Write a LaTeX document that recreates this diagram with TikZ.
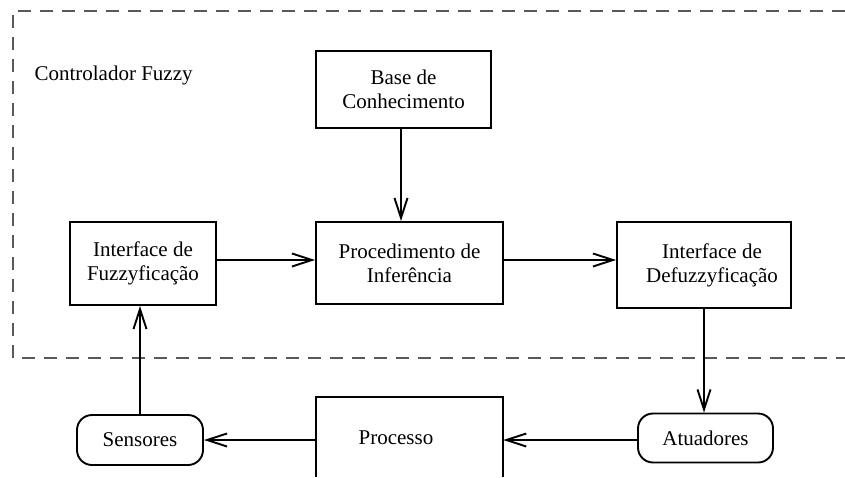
\documentclass[tikz,border=0pt]{standalone}
\usepackage{fontspec}
\setmainfont{Liberation Serif}
\usetikzlibrary{arrows.meta}

\begin{document}
\begin{tikzpicture}[x=1pt,y=-1pt,
  every node/.style={font=\fontsize{21}{24}\selectfont, align=center},
  blockbox/.style={draw, line width=1.9pt, inner sep=0pt},
  roundbox/.style={draw, line width=1.9pt, rounded corners=15pt, inner sep=0pt},
  conn/.style={line width=1.9pt, -{Straight Barb[length=20pt,width=13pt,line width=1.9pt]}},
  frameline/.style={draw=black!65, line width=1.4pt, dash pattern=on 13pt off 9pt}
]
\useasboundingbox (0,0) rectangle (845,477);

% dashed frame of the controller (open on the right)
\coordinate (ftr) at (845,11);
\coordinate (ftl) at (13,11);
\coordinate (fbl) at (13,358);
\coordinate (fbr) at (845,358);
\draw[frameline] (ftr) -- (ftl) -- (fbl) -- (fbr);
\node[anchor=west] (title) at (31,75) {Controlador Fuzzy};

% controller blocks
\node[blockbox, minimum width=175pt, minimum height=77pt] (base) at (403.5,89.5) {Base de\\Conhecimento};
\node[blockbox, minimum width=187pt, minimum height=82pt] (infer) at (409.5,263) {Procedimento de\\Inferência};
\node[blockbox, minimum width=146pt, minimum height=83pt] (fuzz) at (143,263.5) {Interface de\\Fuzzyficação};
\node[blockbox, minimum width=174pt, minimum height=86pt] (defuzz) at (704,265) {};
\node (defuzztext) at (712,265) {Interface de\\Defuzzyficação};

% plant side
\node[roundbox, minimum width=135pt, minimum height=49pt] (atu) at (705.5,438) {Atuadores};
\node[roundbox, minimum width=126pt, minimum height=50pt] (sens) at (140,440) {Sensores};
\node[minimum width=187pt, minimum height=80pt, inner sep=0pt] (proc) at (409.5,437) {};
\node (proctext) at (396,438) {Processo};
\draw[line width=1.9pt] (proc.south west) |- (proc.north east) -- (proc.south east);

% signal flow
\draw[conn] (base.south -| infer.north) ++(-8.5,0) coordinate (bs) -- (bs |- infer.north);
\draw[conn] (fuzz.east) ++(0,-3.5) coordinate (fe) -- (fe -| infer.west);
\draw[conn] (infer.east |- defuzz.west) ++(0,-5) coordinate (ie) -- (ie -| defuzz.west);
\draw[conn] (defuzz.south) -- (atu.north -| defuzz.south);
\draw[conn] (atu.west |- 0,440) coordinate (aw) -- (aw -| proc.east);
\draw[conn] (proc.west |- sens.east) -- (sens.east);
\draw[conn] (sens.north) -- (fuzz.south -| sens.north);
\end{tikzpicture}
\end{document}
